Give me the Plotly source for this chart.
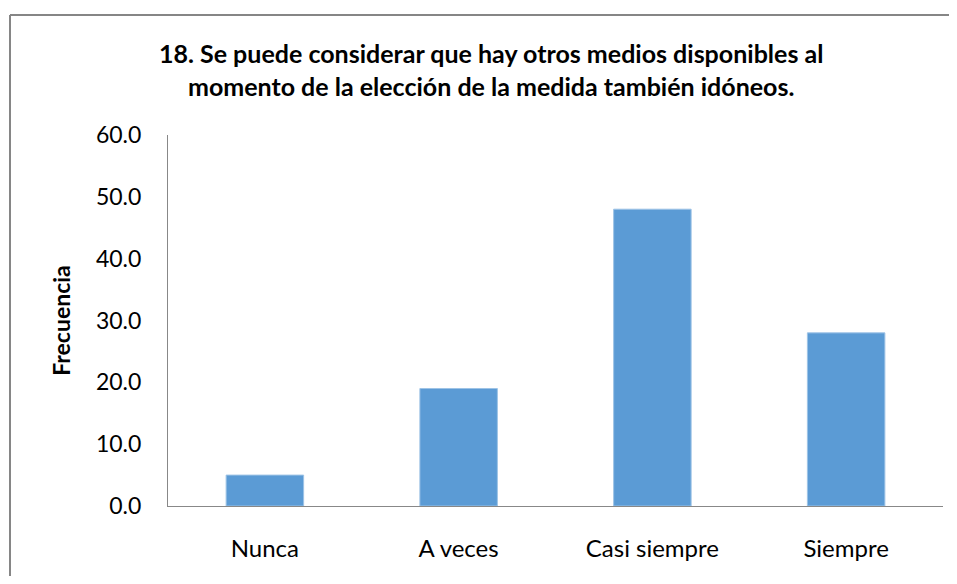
import plotly.graph_objects as go

categories = ["Nunca", "A veces", "Casi siempre", "Siempre"]
frecuencia = [5.0, 19.0, 48.0, 28.0]
y_ticks = [0, 10, 20, 30, 40, 50, 60]

title_text = (
    "18. Se puede considerar que hay otros medios disponibles al<br>"
    "momento de la elección de la medida también idóneos."
)

# page is offset 8px by the body margin, so positions below are page px - 8
W, H = 941, 568
L, R, T, B = 160, 6, 127, 70
pw, ph = W - L - R, H - T - B


def px_x(x):
    return (x - 8 - L) / pw


def px_y(y):
    return (H - B - (y - 8)) / ph


fig = go.Figure(
    go.Bar(
        x=categories,
        y=frecuencia,
        marker=dict(color="#5b9bd5", line=dict(color="#9dc3e6", width=1)),
    )
)

frame = dict(color="#868686", width=2)

fig.update_layout(
    width=W,
    height=H,
    margin=dict(l=L, r=R, t=T, b=B),
    paper_bgcolor="white",
    plot_bgcolor="white",
    bargap=0.6,
    showlegend=False,
    font=dict(family="Lato, sans-serif", color="#000000", size=24),
    xaxis=dict(
        showline=True,
        linecolor="#888888",
        linewidth=1,
        ticks="",
        showgrid=False,
        ticklabelstandoff=21,
        tickfont=dict(size=24),
    ),
    yaxis=dict(
        range=[0, 60],
        tickvals=y_ticks,
        tickformat=".1f",
        showline=True,
        linecolor="#888888",
        linewidth=1,
        ticks="",
        showgrid=False,
        zeroline=False,
        ticklabelstandoff=21,
        tickfont=dict(size=23),
        title=dict(text="<b>Frecuencia</b>", font=dict(size=23), standoff=18),
    ),
    shapes=[
        # outer chart frame (only top and left edges are visible in the crop)
        dict(type="line", xref="paper", yref="paper",
             x0=px_x(10), x1=px_x(1000), y0=px_y(15), y1=px_y(15), line=frame),
        dict(type="line", xref="paper", yref="paper",
             x0=px_x(10), x1=px_x(10), y0=px_y(15), y1=px_y(640), line=frame),
    ],
    annotations=[
        dict(
            text="<b>" + title_text + "</b>",
            xref="paper",
            yref="paper",
            x=px_x(491),
            y=px_y(69),
            xanchor="center",
            yanchor="middle",
            showarrow=False,
            font=dict(size=25),
            align="center",
        )
    ],
)

fig.write_html("out.html")
